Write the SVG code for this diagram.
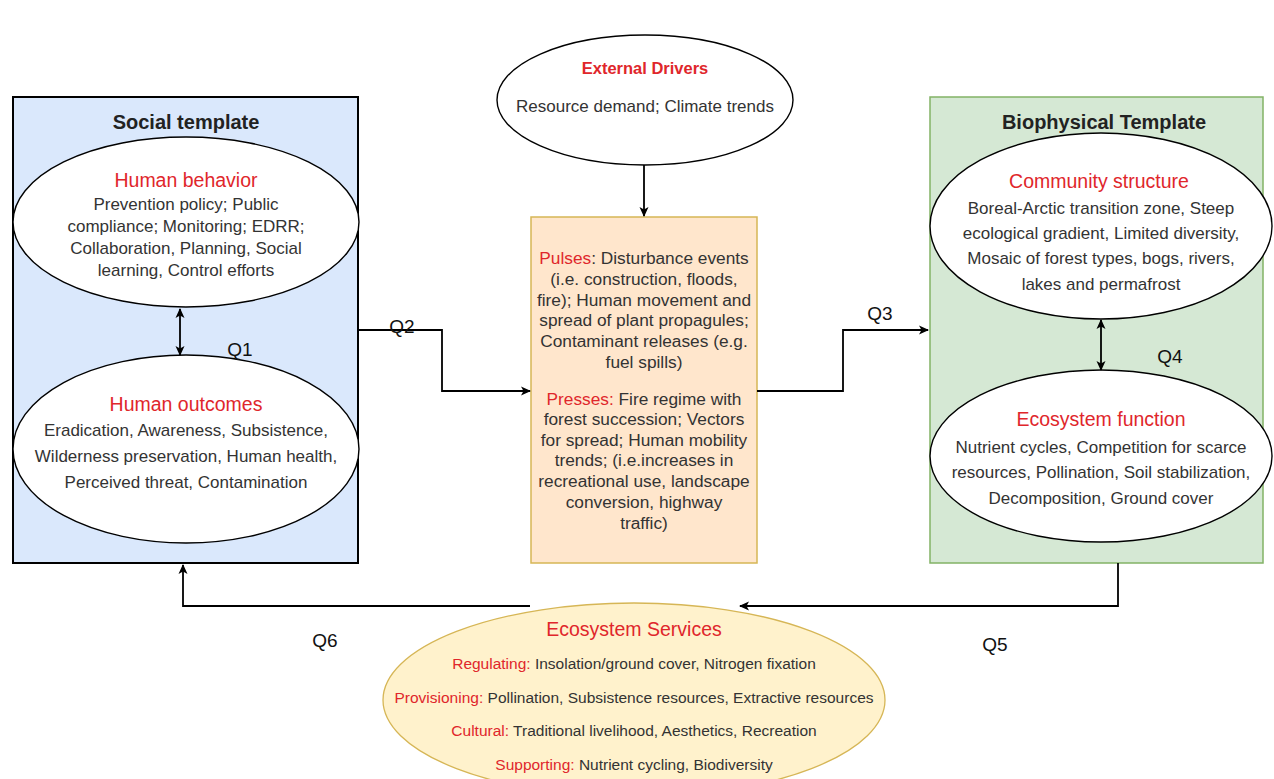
<svg xmlns="http://www.w3.org/2000/svg" width="1274" height="779" viewBox="0 0 1274 779">
<defs>
<marker id="arr" viewBox="0 0 10 10" refX="9" refY="5" markerWidth="10" markerHeight="10" orient="auto-start-reverse" markerUnits="userSpaceOnUse">
<path d="M0,0.5 L10,5 L0,9.5 L2.5,5 Z" fill="#000"/>
</marker>
<style>
text{font-family:"Liberation Sans",Arial,sans-serif;text-anchor:middle}
.t{font-size:20px;font-weight:bold;fill:#222}
.h{font-size:19.5px;fill:#e0262b}
.b{font-size:17px;fill:#333}
.c{font-size:17.3px;fill:#333}
.s{font-size:15.5px;fill:#333}
.r{fill:#e0262b}
.q{font-size:19px;fill:#111}
.el{fill:#fff;stroke:#000;stroke-width:1.4}
.ln{fill:none;stroke:#000;stroke-width:1.8}
</style>
</defs>
<rect width="1274" height="779" fill="#fff"/>

<g id="social-template">
<rect x="13" y="97" width="345" height="466" fill="#dae8fc" stroke="#000" stroke-width="2"/>
<text class="t" x="186" y="129">Social template</text>
</g>
<g id="human-behavior">
<ellipse class="el" cx="186" cy="222" rx="173" ry="85"/>
<text class="h" x="186" y="187">Human behavior</text>
<text class="b" x="186" y="210">Prevention policy; Public</text>
<text class="b" x="186" y="232">compliance; Monitoring; EDRR;</text>
<text class="b" x="186" y="254">Collaboration, Planning, Social</text>
<text class="b" x="186" y="276">learning, Control efforts</text>
</g>
<g id="human-outcomes">
<ellipse class="el" cx="186" cy="449" rx="173" ry="94"/>
<text class="h" x="186" y="411">Human outcomes</text>
<text class="b" x="186" y="436">Eradication, Awareness, Subsistence,</text>
<text class="b" x="186" y="462">Wilderness preservation, Human health,</text>
<text class="b" x="186" y="488">Perceived threat, Contamination</text>
</g>

<g id="external-drivers">
<ellipse class="el" cx="645" cy="100" rx="148" ry="65"/>
<text class="h" x="645" y="74" style="font-size:16.5px;font-weight:bold">External Drivers</text>
<text class="b" x="645" y="112">Resource demand; Climate trends</text>
</g>

<g id="pulses-presses">
<rect x="531" y="217" width="226" height="346" fill="#ffe6cc" stroke="#d6b656" stroke-width="1.5"/>
<text class="c" x="644" y="264"><tspan class="r">Pulses</tspan>: Disturbance events</text>
<text class="c" x="644" y="285">(i.e. construction, floods,</text>
<text class="c" x="644" y="306">fire); Human movement and</text>
<text class="c" x="644" y="326">spread of plant propagules;</text>
<text class="c" x="644" y="347">Contaminant releases (e.g.</text>
<text class="c" x="644" y="368">fuel spills)</text>
<text class="c" x="644" y="405"><tspan class="r">Presses:</tspan> Fire regime with</text>
<text class="c" x="644" y="425">forest succession; Vectors</text>
<text class="c" x="644" y="446">for spread; Human mobility</text>
<text class="c" x="644" y="466">trends; (i.e.increases in</text>
<text class="c" x="644" y="487">recreational use, landscape</text>
<text class="c" x="644" y="508">conversion, highway</text>
<text class="c" x="644" y="529">traffic)</text>
</g>

<g id="biophysical-template">
<rect x="930" y="97" width="333" height="466" fill="#d5e8d4" stroke="#82b366" stroke-width="1.5"/>
<text class="t" x="1104" y="129">Biophysical Template</text>
</g>
<g id="community-structure">
<ellipse class="el" cx="1101" cy="226" rx="171" ry="93"/>
<text class="h" x="1099" y="188">Community structure</text>
<text class="b" x="1101" y="214">Boreal-Arctic transition zone, Steep</text>
<text class="b" x="1101" y="239">ecological gradient, Limited diversity,</text>
<text class="b" x="1101" y="264">Mosaic of forest types, bogs, rivers,</text>
<text class="b" x="1101" y="290">lakes and permafrost</text>
</g>
<g id="ecosystem-function">
<ellipse class="el" cx="1101" cy="456" rx="171" ry="86"/>
<text class="h" x="1101" y="426">Ecosystem function</text>
<text class="b" x="1101" y="453">Nutrient cycles, Competition for scarce</text>
<text class="b" x="1101" y="478">resources, Pollination, Soil stabilization,</text>
<text class="b" x="1101" y="504">Decomposition, Ground cover</text>
</g>

<g id="ecosystem-services">
<ellipse cx="634" cy="700" rx="251" ry="97" fill="#fff2cc" stroke="#d6b656" stroke-width="1.3"/>
<text class="h" x="634" y="636">Ecosystem Services</text>
<text class="s" x="634" y="669"><tspan class="r">Regulating:</tspan> Insolation/ground cover, Nitrogen fixation</text>
<text class="s" x="634" y="703"><tspan class="r">Provisioning:</tspan> Pollination, Subsistence resources, Extractive resources</text>
<text class="s" x="634" y="736"><tspan class="r">Cultural:</tspan> Traditional livelihood, Aesthetics, Recreation</text>
<text class="s" x="634" y="770"><tspan class="r">Supporting:</tspan> Nutrient cycling, Biodiversity</text>
</g>

<g id="connectors">
<line class="ln" x1="180" y1="309" x2="180" y2="355" marker-start="url(#arr)" marker-end="url(#arr)"/>
<line class="ln" x1="1101" y1="320" x2="1101" y2="370" marker-start="url(#arr)" marker-end="url(#arr)"/>
<line class="ln" x1="644" y1="165" x2="644" y2="216" marker-end="url(#arr)"/>
<polyline class="ln" points="358,330 442,330 442,391 530,391" marker-end="url(#arr)"/>
<polyline class="ln" points="757,391 843,391 843,330 928,330" marker-end="url(#arr)"/>
<polyline class="ln" points="1118,563 1118,606 740,606" marker-end="url(#arr)"/>
<polyline class="ln" points="530,606 183,606 183,565" marker-end="url(#arr)"/>
<text class="q" x="240" y="356">Q1</text>
<text class="q" x="402" y="333">Q2</text>
<text class="q" x="880" y="320">Q3</text>
<text class="q" x="1170" y="363">Q4</text>
<text class="q" x="995" y="651">Q5</text>
<text class="q" x="325" y="647">Q6</text>
</g>
</svg>
